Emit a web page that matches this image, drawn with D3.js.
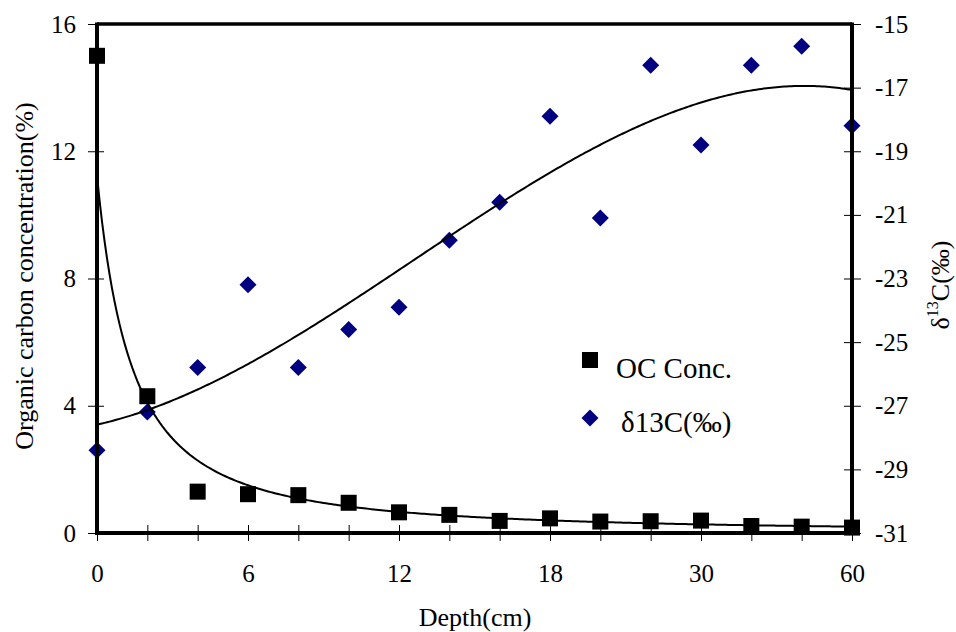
<!DOCTYPE html>
<html>
<head>
<meta charset="utf-8">
<script src="https://cdn.jsdelivr.net/npm/d3@7"></script>
<style>
  body { margin: 0; background: #fff; }
  svg { display: block; font-family: "Liberation Serif", "Times New Roman", serif; }
</style>
</head>
<body>
<svg id="chart" width="956" height="632"></svg>
<script>
// depth categories (cm) - plotted as evenly spaced categories
var depths = [0, 2, 4, 6, 8, 10, 12, 14, 16, 18, 22, 26, 30, 40, 50, 60];
var depthLabels = ["0", "6", "12", "18", "30", "60"];
// organic carbon concentration (%)
var ocConc = [15.0, 4.3, 1.3, 1.22, 1.19, 0.95, 0.65, 0.57, 0.38, 0.46, 0.36, 0.37, 0.39, 0.22, 0.2, 0.17];
// delta 13C (per mil)
var d13C = [-28.4, -27.2, -25.8, -23.2, -25.8, -24.6, -23.9, -21.8, -20.6, -17.9, -21.1, -16.3, -18.8, -16.3, -15.7, -18.2];
var leftTicks = [0, 4, 8, 12, 16];
var rightTicks = [-31, -29, -27, -25, -23, -21, -19, -17, -15];

var svg = d3.select("#chart");
var pLeft = 97, pRight = 852, pTop = 24, pBottom = 533;

var x = d3.scaleLinear().domain([0, depths.length - 1]).range([pLeft, pRight]);
var yL = d3.scaleLinear().domain([0, 16]).range([pBottom, pTop]);
var yR = d3.scaleLinear().domain([-31, -15]).range([pBottom, pTop]);

// Excel style trendlines, x = 1..n
// power fit for OC
function powerFit(ys) {
  var lx = ys.map(function(d, i) { return Math.log(i + 1); });
  var ly = ys.map(function(d) { return Math.log(d); });
  var mx = d3.mean(lx), my = d3.mean(ly), sxy = 0, sxx = 0;
  for (var i = 0; i < ys.length; i++) {
    sxy += (lx[i] - mx) * (ly[i] - my);
    sxx += (lx[i] - mx) * (lx[i] - mx);
  }
  var b = sxy / sxx, a = Math.exp(my - b * mx);
  return function(t) { return a * Math.pow(t, b); };
}
// polynomial fit (least squares, normal equations)
function polyFit(ys, order) {
  var n = order + 1, A = [], i, j, k;
  for (i = 0; i < n; i++) {
    A.push([]);
    for (j = 0; j <= n; j++) A[i].push(0);
  }
  ys.forEach(function(yv, idx) {
    var t = idx + 1;
    for (i = 0; i < n; i++) {
      for (j = 0; j < n; j++) A[i][j] += Math.pow(t, i + j);
      A[i][n] += yv * Math.pow(t, i);
    }
  });
  for (i = 0; i < n; i++) {
    var p = i;
    for (k = i + 1; k < n; k++) if (Math.abs(A[k][i]) > Math.abs(A[p][i])) p = k;
    var tmp = A[i]; A[i] = A[p]; A[p] = tmp;
    for (k = i + 1; k < n; k++) {
      var f = A[k][i] / A[i][i];
      for (j = i; j <= n; j++) A[k][j] -= f * A[i][j];
    }
  }
  var c = new Array(n);
  for (i = n - 1; i >= 0; i--) {
    var s = A[i][n];
    for (j = i + 1; j < n; j++) s -= A[i][j] * c[j];
    c[i] = s / A[i][i];
  }
  return function(t) {
    var v = 0;
    for (var q = 0; q < n; q++) v += c[q] * Math.pow(t, q);
    return v;
  };
}

var ocFit = powerFit(ocConc);
var dFit = polyFit(d13C, 3);
var samples = d3.range(0, depths.length - 1 + 0.001, 0.05);

// points
var g = svg.append("g");
var sq = 16;
g.selectAll(".oc").data(ocConc).enter().append("rect")
  .attr("x", function(d, i) { return x(i) - sq / 2; })
  .attr("y", function(d) { return yL(d) - sq / 2; })
  .attr("width", sq).attr("height", sq)
  .attr("fill", "#000");

var dm = 8.5;
g.selectAll(".d13").data(d13C).enter().append("path")
  .attr("d", function(d, i) {
    var cx = x(i), cy = yR(d);
    return "M" + cx + "," + (cy - dm) + "L" + (cx + dm) + "," + cy + "L" + cx + "," + (cy + dm) + "L" + (cx - dm) + "," + cy + "Z";
  })
  .attr("fill", "#000080");

// trendlines
var lineL = d3.line().x(function(t) { return x(t); }).y(function(t) { return yL(ocFit(t + 1)); });
var lineR = d3.line().x(function(t) { return x(t); }).y(function(t) { return yR(dFit(t + 1)); });
g.append("path").attr("d", lineL(samples)).attr("fill", "none").attr("stroke", "#000").attr("stroke-width", 2);
g.append("path").attr("d", lineR(samples)).attr("fill", "none").attr("stroke", "#000").attr("stroke-width", 2);

// frame
svg.append("line").attr("x1", pLeft).attr("x2", pRight).attr("y1", pTop).attr("y2", pTop)
  .attr("stroke", "#000").attr("stroke-width", 3.5);

// left axis
var axL = svg.append("g").attr("transform", "translate(" + pLeft + ",0)")
  .call(d3.axisLeft(yL).tickValues(leftTicks).tickFormat(function(d) { return String(d); }).tickSize(8).tickPadding(13));
axL.select(".domain").attr("stroke-width", 4).attr("d", "M0," + (pTop - 1.5) + "V" + (pBottom + 2));
axL.selectAll(".tick line").attr("x1", 7).attr("x2", -9);

// right axis
var axR = svg.append("g").attr("transform", "translate(" + pRight + ",0)")
  .call(d3.axisRight(yR).tickValues(rightTicks).tickFormat(function(d) { return String(d); }).tickSize(8).tickPadding(15));
axR.select(".domain").attr("stroke-width", 4).attr("d", "M0," + (pTop - 1.5) + "V" + (pBottom + 2));
axR.selectAll(".tick line").attr("x1", -8).attr("x2", 9);

// bottom axis
var axB = svg.append("g").attr("transform", "translate(0," + pBottom + ")")
  .call(d3.axisBottom(x).tickValues(d3.range(depths.length))
    .tickFormat(function(d) { return d % 3 === 0 ? depthLabels[d / 3] : ""; })
    .tickSize(8).tickPadding(23));
axB.select(".domain").attr("stroke-width", 4).attr("d", "M" + (pLeft - 2) + ",0H" + (pRight + 2));
axB.selectAll(".tick line").attr("y1", -8).attr("y2", 8);

svg.selectAll(".tick text").attr("font-size", 25).attr("font-family", "Liberation Serif, Times New Roman, serif").attr("fill", "#000");
svg.selectAll(".tick line").attr("stroke", "#000").attr("stroke-width", 1);

// axis titles
svg.append("text").attr("transform", "translate(33,276) rotate(-90)")
  .attr("text-anchor", "middle").attr("font-size", 26).text("Organic carbon concentration(%)");
var rt = svg.append("text").attr("transform", "translate(949,285) rotate(-90)")
  .attr("text-anchor", "middle").attr("font-size", 26);
rt.append("tspan").text("δ");
rt.append("tspan").attr("font-size", 16).attr("dy", -11).text("13");
rt.append("tspan").attr("dy", 11).text("C(‰)");
svg.append("text").attr("x", 475).attr("y", 626).attr("text-anchor", "middle")
  .attr("font-size", 26).text("Depth(cm)");

// legend
var lg = svg.append("g");
lg.append("rect").attr("x", 582).attr("y", 352).attr("width", 16).attr("height", 16).attr("fill", "#000");
lg.append("text").attr("x", 616).attr("y", 378).attr("font-size", 29).text("OC Conc.");
lg.append("path").attr("d", "M590,409.5L598.5,418L590,426.5L581.5,418Z").attr("fill", "#000080");
lg.append("text").attr("x", 621).attr("y", 432).attr("font-size", 29).text("δ13C(‰)");
</script>
</body>
</html>
